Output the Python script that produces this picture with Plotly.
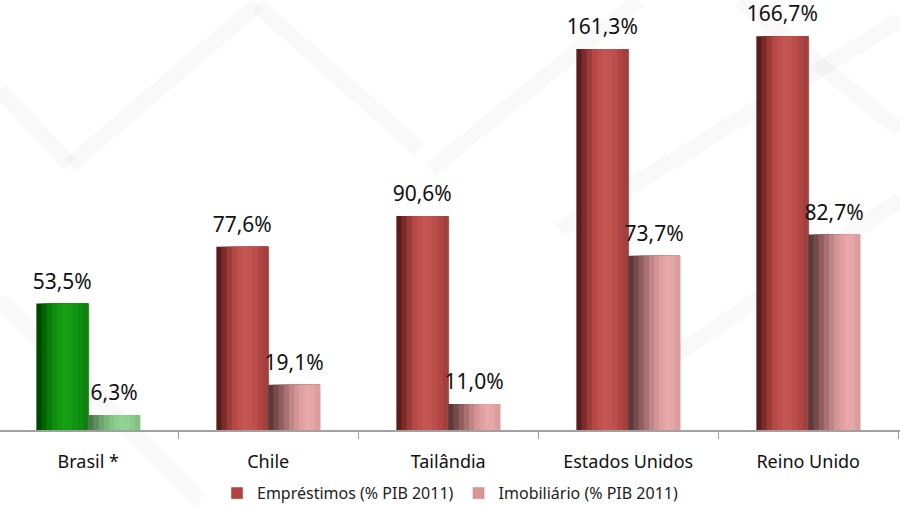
import plotly.graph_objects as go

# data
paises = ["Brasil *", "Chile", "Tailândia", "Estados Unidos", "Reino Unido"]
emprestimos = [53.5, 77.6, 90.6, 161.3, 166.7]
imobiliario = [6.3, 19.1, 11.0, 73.7, 82.7]
nome_emp = "Empréstimos (% PIB 2011)"
nome_imo = "Imobiliário (% PIB 2011)"
destaque = "Brasil *"

# shading steps, left to right, to fake the cylinder look
red_steps = ["#5a1d1b", "#7d2c29", "#9c3c39", "#b34946", "#bf504d", "#c45552",
             "#c25350", "#bb4e4b", "#b04643", "#a2403d"]
pink_steps = ["#5c3a3a", "#76494a", "#8f5d5e", "#a97172", "#c08485", "#d39597",
              "#e0a0a2", "#e8a7a9", "#e6a5a7", "#dc9d9f"]
green_steps = ["#004800", "#006400", "#087c08", "#0e8f0e", "#139a13", "#15a015",
               "#149c14", "#129512", "#108c10", "#0d820d"]
lgreen_steps = ["#4f7a4f", "#5f8f5f", "#6fa46f", "#7bb67b", "#85c485", "#8dce8d",
                "#91d391", "#90d290", "#8acb8a", "#82c182"]

bar_w = 0.288
n = len(red_steps)
slice_w = bar_w / n
xs = list(range(len(paises)))

fig = go.Figure()

def add_cylinder(values, side, steps, steps_hl):
    start = -bar_w if side == 0 else 0.0
    for k in range(n):
        cols = [steps_hl[k] if p == destaque else steps[k] for p in paises]
        # each slice runs to the right edge so no seams show between slices
        fig.add_trace(go.Bar(
            x=xs, y=values, width=bar_w - k * slice_w,
            offset=start + k * slice_w,
            marker=dict(color=cols, line=dict(width=0)),
            showlegend=False, hoverinfo="skip"))

add_cylinder(emprestimos, 0, red_steps, green_steps)
add_cylinder(imobiliario, 1, pink_steps, lgreen_steps)

# value labels
fmt = lambda v: f"{v:.1f}".replace(".", ",") + "%"
for vals, shift in [(emprestimos, -bar_w / 2), (imobiliario, bar_w / 2)]:
    fig.add_trace(go.Scatter(
        x=[x + shift for x in xs], y=vals, mode="markers+text",
        marker=dict(size=14, opacity=0),
        text=[fmt(v) for v in vals], textposition="top center",
        textfont=dict(size=21, color="#111"), showlegend=False, hoverinfo="skip",
        cliponaxis=False))

# legend entries
fig.add_trace(go.Bar(x=[None], y=[None], name=nome_emp, marker_color="#b3413f"))
fig.add_trace(go.Bar(x=[None], y=[None], name=nome_imo, marker_color="#d99495"))

# faint background chevrons
bg = "rgba(0,0,0,0.022)"
shapes = []
for (x0, y0, x1, y1) in [(70, 165, 257, 5), (257, 5, 420, 150), (0, 90, 70, 165),
                         (0, 300, 200, 500), (560, 230, 900, 20), (740, 0, 900, 130),
                         (430, 170, 640, 0), (640, 380, 900, 200)]:
    shapes.append(dict(type="line", xref="paper", yref="paper",
                       x0=x0 / 900, x1=x1 / 900, y0=1 - y0 / 430, y1=1 - y1 / 430,
                       line=dict(color=bg, width=16), layer="below"))

fig.update_layout(
    width=900, height=507,
    margin=dict(l=0, r=0, t=0, b=77, autoexpand=False),
    barmode="overlay",
    paper_bgcolor="white", plot_bgcolor="rgba(0,0,0,0)",
    font=dict(family="Noto Sans, Open Sans, sans-serif", color="#111"),
    shapes=shapes,
    legend=dict(orientation="h", x=0.5, xanchor="center", y=-0.147, yanchor="middle",
                font=dict(size=16, color="#222"), itemwidth=30, traceorder="normal"),
    xaxis=dict(range=[-0.49, 4.51], tickvals=xs, ticktext=paises,
               tickfont=dict(size=18, color="#111"), ticks="", ticklabelstandoff=15,
               showline=True, linecolor="#a0a0a0", linewidth=1.5, showgrid=False,
               zeroline=False, automargin=False,
               minor=dict(tickmode="array", tickvals=[0.5, 1.5, 2.5, 3.5, 4.5],
                          ticks="outside", ticklen=7, tickcolor="#a0a0a0")),
    yaxis=dict(range=[0, 182], visible=False, showgrid=False, zeroline=False),
)

fig.write_html("out.html", config={"displayModeBar": False},
               post_script="document.body.style.margin='0px';")
